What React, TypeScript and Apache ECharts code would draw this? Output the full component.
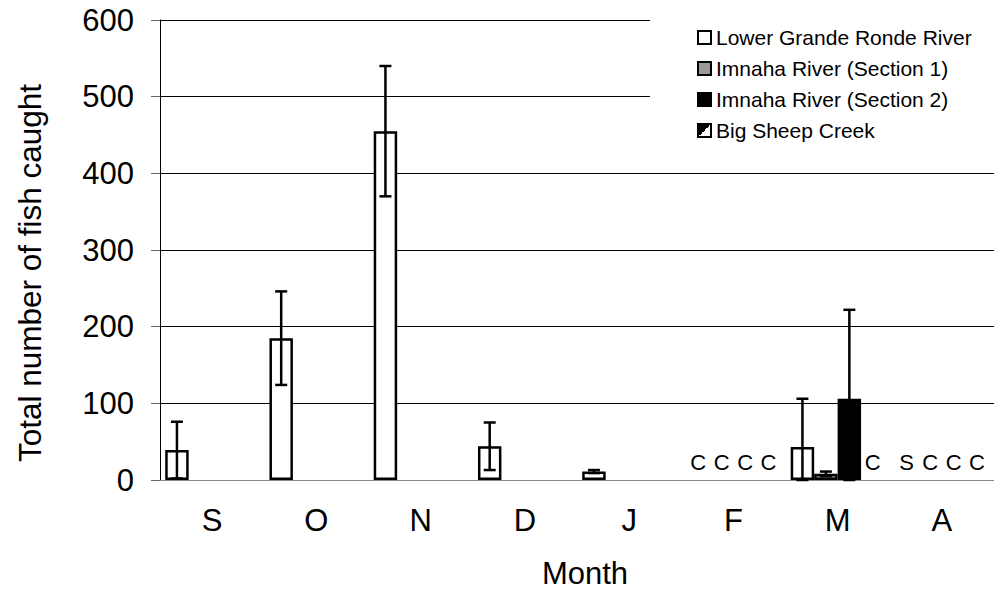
import React, { useEffect, useRef } from "react";
import * as echarts from "echarts";

const months = ["S", "O", "N", "D", "J", "F", "M", "A"];
const seriesNames = [
  "Lower Grande Ronde River",
  "Imnaha River (Section 1)",
  "Imnaha River (Section 2)",
  "Big Sheep Creek",
];
const lowerGrandeRonde = [39, 185, 455, 44, 11, null, 43, null];
const lowerGrandeRondeErr = [37, 61, 85, 31, 2, null, 63, null];
const imnaha1 = [null, null, null, null, null, null, 8, null];
const imnaha1Err = [null, null, null, null, null, null, 3, null];
const imnaha2 = [null, null, null, null, null, null, 106, null];
const imnaha2Err = [null, null, null, null, null, null, 116, null];
const bigSheep = [null, null, null, null, null, null, null, null];
const bigSheepErr = [null, null, null, null, null, null, null, null];
// annotation letters: [month, series index, text]
const notes: [string, number, string][] = [
  ["F", 0, "C"], ["F", 1, "C"], ["F", 2, "C"], ["F", 3, "C"],
  ["M", 3, "C"],
  ["A", 0, "S"], ["A", 1, "C"], ["A", 2, "C"], ["A", 3, "C"],
];
const yTicks = [0, 100, 200, 300, 400, 500, 600];
const yTitle = "Total number of fish caught";
const xTitle = "Month";

const FONT = "'Liberation Sans', Arial, sans-serif";

export default function App() {
  const ref = useRef<HTMLDivElement>(null);
  useEffect(() => {
    if (!ref.current) return;
    const chart = echarts.init(ref.current, null, { renderer: "svg" });
    const values = [lowerGrandeRonde, imnaha1, imnaha2, bigSheep];
    const errs = [lowerGrandeRondeErr, imnaha1Err, imnaha2Err, bigSheepErr];
    const fills: any[] = [
      "#ffffff",
      "#999999",
      "#000000",
      new echarts.graphic.LinearGradient(0, 0, 1, 1, [
        { offset: 0, color: "#000" },
        { offset: 0.5, color: "#000" },
        { offset: 0.5, color: "#fff" },
        { offset: 1, color: "#fff" },
      ]),
    ];
    const errData: number[][] = [];
    values.forEach((arr, s) => {
      arr.forEach((v, i) => {
        const e = errs[s][i];
        if (v != null && e != null) {
          errData.push([i, Math.max(0, v - e), v + e, s]);
        }
      });
    });
    const noteData = notes.map(([m, s, t]) => [months.indexOf(m), 0, s, t]);

    const barOffset = (api: any, s: number) => {
      const band = api.size([1, 0])[0];
      const bw = (band * 0.9) / 4;
      return (s - 1.5) * bw;
    };

    const option: any = {
      animation: false,
      textStyle: { fontFamily: FONT },
      grid: { left: 160, top: 20, width: 840, height: 460 },
      graphic: [
        {
          type: "text",
          x: 30,
          y: 273,
          rotation: Math.PI / 2,
          style: {
            text: yTitle,
            fontFamily: FONT,
            fontSize: 31.5,
            fill: "#000",
            align: "center",
            verticalAlign: "middle",
          },
        },
        {
          type: "text",
          x: 585,
          y: 573,
          style: {
            text: xTitle,
            fontFamily: FONT,
            fontSize: 31,
            fill: "#000",
            align: "center",
            verticalAlign: "middle",
          },
        },
      ],
      legend: {
        data: seriesNames,
        orient: "vertical",
        left: 650,
        top: 14,
        padding: [13, 30, 14, 47],
        backgroundColor: "#ffffff",
        itemWidth: 13,
        itemHeight: 13,
        itemGap: 10,
        icon: "rect",
        textStyle: { fontFamily: FONT, fontSize: 21, lineHeight: 20, color: "#000" },
      },
      xAxis: {
        type: "category",
        data: months,
        axisLine: { lineStyle: { color: "#888", width: 1 } },
        axisTick: { length: 8, lineStyle: { color: "#000" } },
        axisLabel: { fontFamily: FONT, fontSize: 31, color: "#000", margin: 25 },
      },
      yAxis: {
        type: "value",
        min: yTicks[0],
        max: yTicks[yTicks.length - 1],
        interval: 100,
        axisLine: { show: true, lineStyle: { color: "#000", width: 1 } },
        axisTick: { show: true, length: 9, lineStyle: { color: "#666" } },
        axisLabel: { fontFamily: FONT, fontSize: 31, color: "#000", margin: 26 },
        splitLine: { show: true, lineStyle: { color: "#000", width: 1 } },
      },
      series: [
        ...values.map((arr, s) => ({
          name: seriesNames[s],
          type: "bar",
          data: arr,
          barGap: "0%",
          barCategoryGap: "10%",
          itemStyle: { color: fills[s], borderColor: "#000", borderWidth: 2.5 },
          z: 2,
        })),
        {
          type: "custom",
          name: "errors",
          data: errData,
          encode: { x: 0, y: [1, 2] },
          z: 5,
          renderItem: (params: any, api: any) => {
            const cat = api.value(0);
            const lo = api.value(1);
            const hi = api.value(2);
            const s = api.value(3);
            const cx = api.coord([cat, 0])[0] + barOffset(api, s);
            const yLo = api.coord([cat, lo])[1];
            const yHi = api.coord([cat, hi])[1];
            const cap = 6;
            const st = { stroke: "#000", lineWidth: 2.5 };
            return {
              type: "group",
              children: [
                { type: "line", shape: { x1: cx, y1: yLo, x2: cx, y2: yHi }, style: st },
                { type: "line", shape: { x1: cx - cap, y1: yHi, x2: cx + cap, y2: yHi }, style: st },
                { type: "line", shape: { x1: cx - cap, y1: yLo, x2: cx + cap, y2: yLo }, style: st },
              ],
            };
          },
        },
        {
          type: "custom",
          name: "notes",
          data: noteData,
          encode: { x: 0, y: 1 },
          z: 5,
          renderItem: (params: any, api: any) => {
            const cat = api.value(0);
            const s = api.value(2);
            const t = noteData[params.dataIndex][3] as string;
            const p = api.coord([cat, 0]);
            return {
              type: "text",
              x: p[0] + barOffset(api, s),
              y: p[1] - 18,
              style: {
                text: t,
                fontFamily: FONT,
                fontSize: 22,
                fill: "#000",
                align: "center",
                verticalAlign: "middle",
              },
            };
          },
        },
      ],
    };
    chart.setOption(option);
    return () => chart.dispose();
  }, []);
  return <div ref={ref} style={{ width: 994, height: 590, position: "absolute", left: 0, top: 0 }} />;
}
